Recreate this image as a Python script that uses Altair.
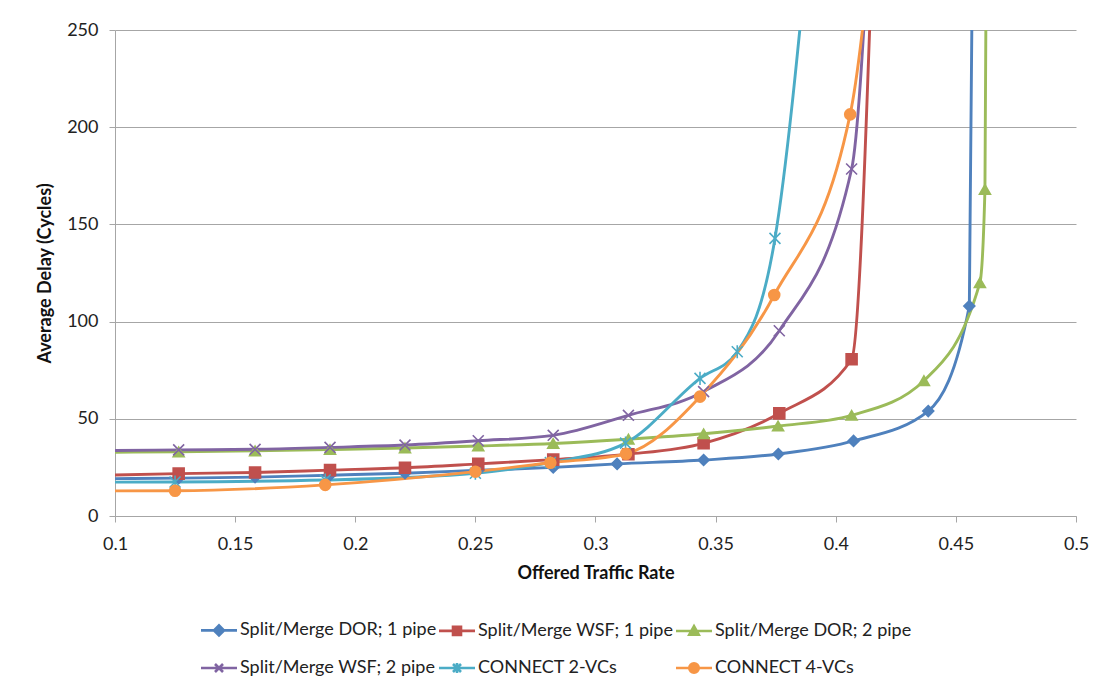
import altair as alt
import pandas as pd

series_names = [
    "Split/Merge DOR; 1 pipe",
    "Split/Merge WSF; 1 pipe",
    "Split/Merge DOR; 2 pipe",
    "Split/Merge WSF; 2 pipe",
    "CONNECT 2-VCs",
    "CONNECT 4-VCs",
]
colors = ["#4F81BD", "#C0504D", "#9BBB59", "#8064A2", "#4BACC6", "#F79646"]

# values (points beyond the axes are clipped, as in the original)
dor1_x = [0.0955, 0.1265, 0.1583, 0.1895, 0.2207, 0.2512, 0.2824, 0.309, 0.345, 0.3761, 0.4074, 0.4385, 0.4556, 0.457]
dor1_y = [19.2, 19.5, 20.0, 21.0, 22.0, 23.5, 25.0, 26.8, 28.8, 31.9, 38.6, 54.0, 108.0, 300.0]

wsf1_x = [0.0955, 0.1265, 0.1583, 0.1895, 0.2207, 0.2512, 0.2824, 0.3137, 0.345, 0.3765, 0.4066, 0.4155]
wsf1_y = [21.0, 21.8, 22.4, 23.6, 24.8, 26.8, 29.0, 31.8, 37.4, 52.8, 80.6, 300.0]

dor2_x = [0.0955, 0.1265, 0.1583, 0.1895, 0.2207, 0.2512, 0.2824, 0.3137, 0.345, 0.376, 0.4066, 0.4367, 0.46, 0.4621, 0.4627]
dor2_y = [32.8, 33.0, 33.5, 34.2, 35.0, 36.0, 37.3, 39.5, 42.3, 46.3, 51.8, 69.6, 120.0, 168.0, 300.0]

wsf2_x = [0.0955, 0.1265, 0.1583, 0.1895, 0.2207, 0.2512, 0.2824, 0.3137, 0.345, 0.3765, 0.4066, 0.414]
wsf2_y = [33.6, 34.0, 34.3, 35.3, 36.5, 38.7, 41.5, 51.8, 64.0, 95.3, 178.5, 300.0]

vc2_x = [0.0625, 0.125, 0.1875, 0.25, 0.2812, 0.3125, 0.3435, 0.359, 0.3747, 0.389]
vc2_y = [17.3, 17.5, 18.5, 22.0, 27.5, 37.5, 70.8, 84.5, 142.8, 300.0]

vc4_x = [0.0625, 0.125, 0.1875, 0.25, 0.2812, 0.3127, 0.3435, 0.3744, 0.406, 0.4155]
vc4_y = [12.8, 13.0, 16.0, 22.8, 27.4, 32.0, 61.4, 113.7, 206.6, 300.0]

x_ticks = [0.1, 0.15, 0.2, 0.25, 0.3, 0.35, 0.4, 0.45, 0.5]
y_ticks = [0, 50, 100, 150, 200, 250]

all_x = [dor1_x, wsf1_x, dor2_x, wsf2_x, vc2_x, vc4_x]
all_y = [dor1_y, wsf1_y, dor2_y, wsf2_y, vc2_y, vc4_y]

rows = []
for name, xs, ys in zip(series_names, all_x, all_y):
    for xv, yv in zip(xs, ys):
        rows.append({"series": name, "rate": xv, "delay": yv})
df = pd.DataFrame(rows)

marker_shapes = [
    "diamond",
    "square",
    "triangle-up",
    "M-1,-1L1,1M-1,1L1,-1",
    "M-1,-1L1,1M-1,1L1,-1M0,-1.2L0,1.2",
    "circle",
]
legend_shapes = [
    "M-3.6,0L3.6,0M-1,0L0,-1L1,0L0,1Z",
    "M-3.6,0L3.6,0M-0.8,-0.8L0.8,-0.8L0.8,0.8L-0.8,0.8Z",
    "M-3.6,0L3.6,0M0,-0.95L0.95,0.75L-0.95,0.75Z",
    "M-3.6,0L3.6,0M-0.8,-0.8L0.8,0.8M-0.8,0.8L0.8,-0.8",
    "M-3.6,0L3.6,0M-0.8,-0.8L0.8,0.8M-0.8,0.8L0.8,-0.8M0,-1L0,1",
    "M-3.6,0L3.6,0M0.95,0A0.95,0.95,0,1,1,-0.95,0A0.95,0.95,0,1,1,0.95,0Z",
]

FONT = "Lato"
FS = 18

x_enc = alt.X(
    "rate:Q",
    scale=alt.Scale(domain=[0.1, 0.5], nice=False, zero=False),
    axis=alt.Axis(values=x_ticks, format="~g", grid=False, title="Offered Traffic Rate",
                  titlePadding=11, labelPadding=13, tickSize=6, labelFlush=False),
)
y_enc = alt.Y(
    "delay:Q",
    scale=alt.Scale(domain=[0, 250], nice=False),
    axis=alt.Axis(values=y_ticks, grid=True, title="Average Delay (Cycles)",
                  titlePadding=12, labelPadding=11, tickSize=6, labelFlush=False),
)

color_scale = alt.Scale(domain=series_names, range=colors)

lines = alt.Chart(df).mark_line(interpolate="monotone", strokeWidth=2.9, clip=True).encode(
    x=x_enc, y=y_enc,
    color=alt.Color("series:N", scale=color_scale, legend=None, sort=series_names),
    detail="series:N",
)

points = alt.Chart(df).mark_point(size=120, strokeWidth=1.6, opacity=1, clip=True).encode(
    x=x_enc, y=y_enc,
    fill=alt.Fill("series:N", scale=color_scale, legend=None),
    stroke=alt.Stroke("series:N", scale=color_scale, legend=None),
    shape=alt.Shape("series:N", scale=alt.Scale(domain=series_names, range=marker_shapes), legend=None),
)

leg = alt.Legend(
    title=None, orient="none", legendX=95, legendY=591, columns=3, direction="horizontal",
    symbolSize=100, symbolStrokeWidth=2.6, labelFont=FONT, labelFontSize=FS,
    labelColor="#222222", labelOffset=12, columnPadding=-4, rowPadding=16,
    symbolOffset=0, labelLimit=400,
)

legend_layer = alt.Chart(df).transform_filter("false").mark_point(opacity=1, strokeWidth=2.6).encode(
    x=x_enc, y=y_enc,
    fill=alt.Fill("series:N", scale=color_scale, legend=leg),
    stroke=alt.Stroke("series:N", scale=color_scale, legend=leg),
    shape=alt.Shape("series:N", scale=alt.Scale(domain=series_names, range=legend_shapes), legend=leg),
)

chart = alt.layer(lines, points, legend_layer).resolve_scale(
    shape="independent", fill="independent", stroke="independent"
).properties(
    width=961, height=486,
    padding={"left": 115, "top": 30, "right": 26, "bottom": 175},
    autosize=alt.AutoSizeParams(type="none"),
    background="white",
).configure_view(stroke=None).configure_axis(
    domainColor="#A6A6A6", tickColor="#A6A6A6", gridColor="#A6A6A6",
    labelFont=FONT, labelFontSize=FS, labelColor="#222222",
    titleFont=FONT, titleFontSize=FS, titleFontWeight="bold", titleColor="#111111",
)

chart.save("out.html", embed_options={"renderer": "svg", "actions": False})
